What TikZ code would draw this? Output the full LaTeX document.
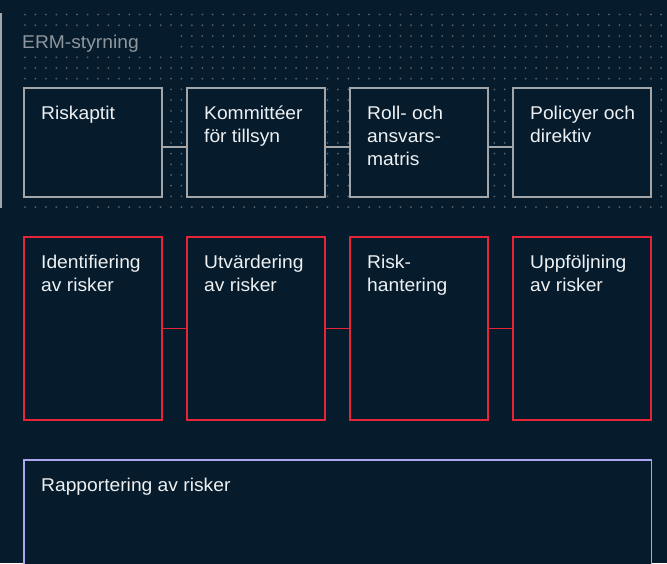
\documentclass[tikz,border=0pt]{standalone}
\usepackage{fontspec}
\setmainfont[FakeStretch=1.04]{Liberation Sans}
\usetikzlibrary{positioning}

\definecolor{bgnavy}{HTML}{061C2D}
\definecolor{boxgray}{HTML}{A3A6A9}
\definecolor{riskred}{HTML}{E62337}
\definecolor{replilac}{HTML}{ADA6F0}
\definecolor{txtwhite}{HTML}{EEF0F2}
\definecolor{ermgray}{HTML}{8F969D}
\definecolor{dotgray}{HTML}{56626D}

\tikzset{
  box/.style={rectangle, draw, line width=1.9pt, fill=bgnavy, outer sep=0pt, inner sep=0pt,
    minimum width=138pt, anchor=north west},
  gov/.style={box, draw=boxgray, minimum height=109pt},
  proc/.style={box, draw=riskred, minimum height=183pt},
  rep/.style={box, draw=replilac, minimum width=627.5pt, minimum height=130pt},
  txt/.style={anchor=north west, inner sep=0pt, xshift=17pt, yshift=-15.4pt, align=left,
    text=txtwhite, font=\fontsize{18.5}{23}\selectfont},
  erm/.style={anchor=base west, fill=bgnavy, inner xsep=0pt, inner ysep=2pt, text width=154pt,
    align=left, text=ermgray, font=\fontsize{18.5}{23}\selectfont},
  link/.style={line width=1.9pt},
}

\begin{document}
\begin{tikzpicture}[x=1pt, y=-1pt, node distance=25pt]
  \useasboundingbox (0,0) rectangle (667,563);
  \clip (0,0) rectangle (667,563);
  \fill[bgnavy] (0,0) rectangle (667,563);

  % dotted field behind the governance row
  \foreach \i in {0,...,61}
    \foreach \j in {0,...,18}
      \fill[dotgray] (25+\i*10.43, 14.5+\j*10.7) circle (1pt);
  \draw[boxgray, line width=1.6pt] (1,13) -- (1,208);
  \node[erm] (ermlbl) at (22,48.3) {ERM-styrning};

  % governance
  \node[gov] (g1) at (24,88) {};
  \node[gov, right=of g1.north east, anchor=north west] (g2) {};
  \node[gov, right=of g2.north east, anchor=north west] (g3) {};
  \node[gov, right=of g3.north east, anchor=north west] (g4) {};
  \node[txt] (g1t) at (g1.north west) {\strut Riskaptit};
  \node[txt] (g2t) at (g2.north west) {\strut Kommittéer\\för tillsyn};
  \node[txt] (g3t) at (g3.north west) {\strut Roll- och\\ansvars-\\matris};
  \node[txt] (g4t) at (g4.north west) {\strut Policyer och\\direktiv};
  \foreach \a/\b in {g1/g2, g2/g3, g3/g4}
    \draw[link, boxgray] ([yshift=-4.2pt]\a.east) -- ([yshift=-4.2pt]\b.west);

  % risk process
  \node[proc, below=40pt of g1.south west, anchor=north west] (p1) {};
  \node[proc, right=of p1.north east, anchor=north west] (p2) {};
  \node[proc, right=of p2.north east, anchor=north west] (p3) {};
  \node[proc, right=of p3.north east, anchor=north west] (p4) {};
  \node[txt] (p1t) at (p1.north west) {\strut Identifiering\\av risker};
  \node[txt] (p2t) at (p2.north west) {\strut Utvärdering\\av risker};
  \node[txt] (p3t) at (p3.north west) {\strut Risk-\\hantering};
  \node[txt] (p4t) at (p4.north west) {\strut Uppföljning\\av risker};
  \foreach \a/\b in {p1/p2, p2/p3, p3/p4}
    \draw[link, riskred] (\a.east) -- (\b.west);

  % reporting
  \node[rep, below=40pt of p1.south west, anchor=north west] (rep) {};
  \node[txt] (rept) at (rep.north west) {\strut Rapportering av risker};
\end{tikzpicture}
\end{document}
